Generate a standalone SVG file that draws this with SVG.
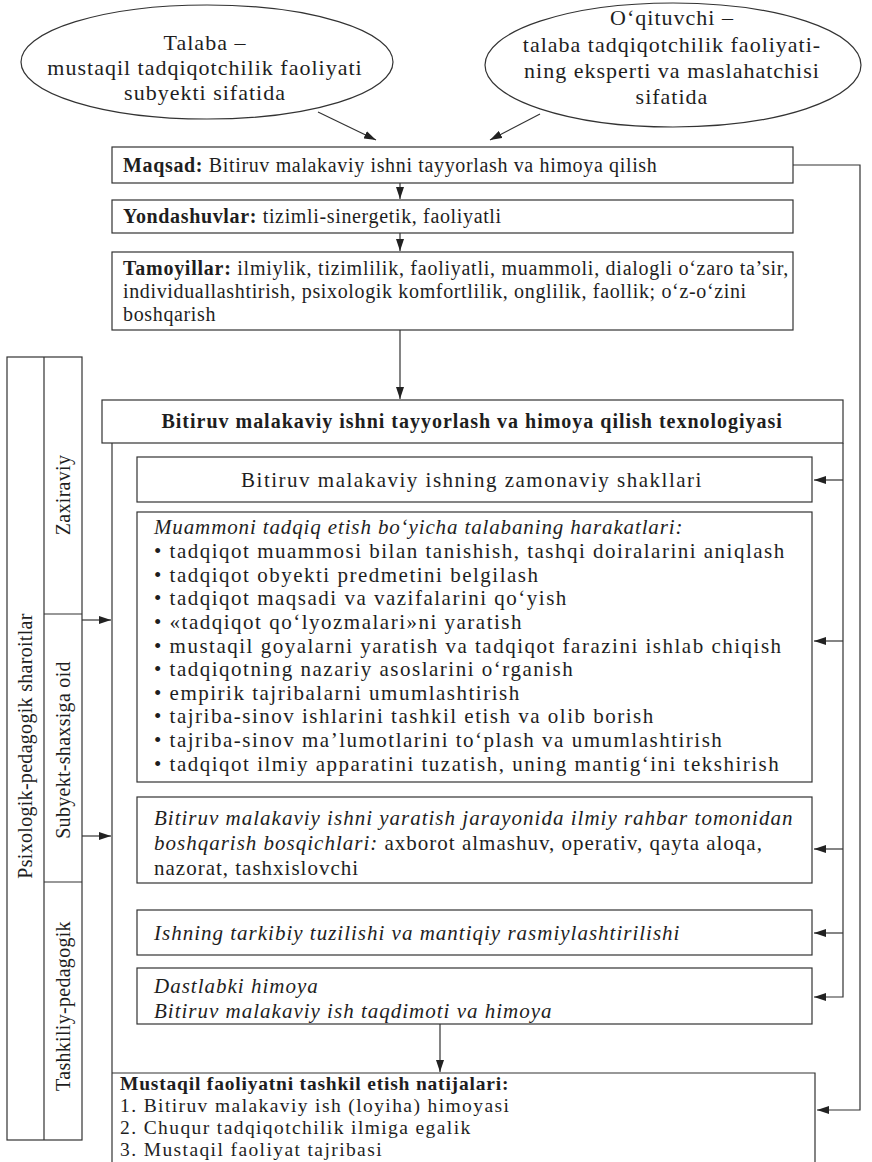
<svg xmlns="http://www.w3.org/2000/svg" width="872" height="1162" viewBox="0 0 872 1162">
<style>
.t{font-family:"Liberation Serif","Times New Roman",serif;fill:#1e1e1e}
.s{font-size:20px;letter-spacing:0.65px}
.e{font-size:22px;letter-spacing:1px}
.l{font-size:21px;letter-spacing:1.5px}
.c{font-size:21px;letter-spacing:1px}
.r{font-size:19.5px;letter-spacing:1.4px}
.v{font-size:20px;letter-spacing:0.3px}
.b{font-weight:bold}
.i{font-style:italic}
.m{text-anchor:middle}
.box{fill:#fff;stroke:#333;stroke-width:1.2}
.ln{fill:none;stroke:#333;stroke-width:1.2}
</style>
<defs>
<marker id="ah" viewBox="0 0 12 8" refX="12" refY="4" markerWidth="12" markerHeight="8" markerUnits="userSpaceOnUse" orient="auto">
<path d="M0,0 L12,4 L0,8 z" fill="#222"/>
</marker>
</defs>
<rect width="872" height="1162" fill="#fff"/>

<g id="connectors">
<path class="ln" d="M318,112 L376,140" marker-end="url(#ah)"/>
<path class="ln" d="M540,114 L490,140" marker-end="url(#ah)"/>
<path class="ln" d="M400,183 V199" marker-end="url(#ah)"/>
<path class="ln" d="M400,233 V251" marker-end="url(#ah)"/>
<path class="ln" d="M400,330 V399" marker-end="url(#ah)"/>
<path class="ln" d="M793,165 H860 V1110 H817" marker-end="url(#ah)"/>
<path class="ln" d="M112,443 V1162"/>
<path class="ln" d="M843,443 V997 H814" marker-end="url(#ah)"/>
<path class="ln" d="M843,480 H814" marker-end="url(#ah)"/>
<path class="ln" d="M843,641 H814" marker-end="url(#ah)"/>
<path class="ln" d="M843,849 H814" marker-end="url(#ah)"/>
<path class="ln" d="M843,933 H814" marker-end="url(#ah)"/>
<path class="ln" d="M82,620 H111" marker-end="url(#ah)"/>
<path class="ln" d="M82,836 H111" marker-end="url(#ah)"/>
<path class="ln" d="M440,1024 V1072" marker-end="url(#ah)"/>
</g>

<g id="talaba">
<ellipse class="box" cx="207" cy="62" rx="186" ry="57"/>
<text class="t e m" x="205" y="50">Talaba –</text>
<text class="t e m" x="205" y="75">mustaqil tadqiqotchilik faoliyati</text>
<text class="t e m" x="205" y="100">subyekti sifatida</text>
</g>

<g id="oqituvchi">
<ellipse class="box" cx="673" cy="65" rx="188" ry="62"/>
<text class="t e m" x="672" y="25">O‘qituvchi –</text>
<text class="t e m" x="672" y="52">talaba tadqiqotchilik faoliyati-</text>
<text class="t e m" x="672" y="78">ning eksperti va maslahatchisi</text>
<text class="t e m" x="672" y="104">sifatida</text>
</g>

<g id="maqsad">
<rect class="box" x="112" y="147" width="681" height="36"/>
<text class="t s" x="123" y="172"><tspan class="b">Maqsad:</tspan> Bitiruv malakaviy ishni tayyorlash va himoya qilish</text>
</g>

<g id="yondashuvlar">
<rect class="box" x="112" y="200" width="681" height="33"/>
<text class="t s" x="123" y="223"><tspan class="b">Yondashuvlar:</tspan> tizimli-sinergetik, faoliyatli</text>
</g>

<g id="tamoyillar">
<rect class="box" x="112" y="252" width="681" height="78"/>
<text class="t s" x="123" y="275" textLength="666" lengthAdjust="spacing"><tspan class="b">Tamoyillar:</tspan> ilmiylik, tizimlilik, faoliyatli, muammoli, dialogli o‘zaro ta’sir,</text>
<text class="t s" x="123" y="298">individuallashtirish, psixologik komfortlilik, onglilik, faollik; o‘z-o‘zini</text>
<text class="t s" x="123" y="321">boshqarish</text>
</g>

<g id="texnologiya">
<rect class="box" x="102" y="400" width="741" height="43"/>
<text class="t s b m" x="472" y="428" textLength="621" lengthAdjust="spacing">Bitiruv malakaviy ishni tayyorlash va himoya qilish texnologiyasi</text>
</g>

<g id="shakllar">
<rect class="box" x="137" y="457" width="675" height="45"/>
<text class="t l m" x="472" y="487">Bitiruv malakaviy ishning zamonaviy shakllari</text>
</g>

<g id="harakatlar">
<rect class="box" x="137" y="512" width="675" height="270"/>
<text class="t l i" x="154" y="534" textLength="530" lengthAdjust="spacing">Muammoni tadqiq etish bo‘yicha talabaning harakatlari:</text>
<text class="t l" x="154" y="558">• tadqiqot muammosi bilan tanishish, tashqi doiralarini aniqlash</text>
<text class="t l" x="154" y="582">• tadqiqot obyekti predmetini belgilash</text>
<text class="t l" x="154" y="605">• tadqiqot maqsadi va vazifalarini qo‘yish</text>
<text class="t l" x="154" y="629">• «tadqiqot qo‘lyozmalari»ni yaratish</text>
<text class="t l" x="154" y="653">• mustaqil goyalarni yaratish va tadqiqot farazini ishlab chiqish</text>
<text class="t l" x="154" y="676">• tadqiqotning nazariy asoslarini o‘rganish</text>
<text class="t l" x="154" y="700">• empirik tajribalarni umumlashtirish</text>
<text class="t l" x="154" y="723">• tajriba-sinov ishlarini tashkil etish va olib borish</text>
<text class="t l" x="154" y="747">• tajriba-sinov ma’lumotlarini to‘plash va umumlashtirish</text>
<text class="t l" x="154" y="771">• tadqiqot ilmiy apparatini tuzatish, uning mantig‘ini tekshirish</text>
</g>

<g id="boshqarish">
<rect class="box" x="137" y="797" width="675" height="86"/>
<text class="t c i" x="154" y="825">Bitiruv malakaviy ishni yaratish jarayonida ilmiy rahbar tomonidan</text>
<text class="t c" x="154" y="850"><tspan class="i">boshqarish bosqichlari:</tspan> axborot almashuv, operativ, qayta aloqa,</text>
<text class="t c" x="154" y="875">nazorat, tashxislovchi</text>
</g>

<g id="tuzilish">
<rect class="box" x="137" y="910" width="675" height="45"/>
<text class="t c i" x="154" y="940">Ishning tarkibiy tuzilishi va mantiqiy rasmiylashtirilishi</text>
</g>

<g id="himoya">
<rect class="box" x="137" y="968" width="675" height="56"/>
<text class="t c i" x="154" y="993">Dastlabki himoya</text>
<text class="t c i" x="154" y="1018">Bitiruv malakaviy ish taqdimoti va himoya</text>
</g>

<g id="natijalar">
<path class="ln" d="M112,1073 H815 V1162"/>
<text class="t r b" x="120" y="1090" style="letter-spacing:0.8px">Mustaqil faoliyatni tashkil etish natijalari:</text>
<text class="t r" x="120" y="1112">1. Bitiruv malakaviy ish (loyiha) himoyasi</text>
<text class="t r" x="120" y="1134">2. Chuqur tadqiqotchilik ilmiga egalik</text>
<text class="t r" x="120" y="1156">3. Mustaqil faoliyat tajribasi</text>
</g>

<g id="sharoitlar">
<rect class="box" x="7" y="357" width="75" height="783"/>
<path class="ln" d="M44,357 V1140 M44,614 H82 M44,882 H82"/>
<text class="t v m" transform="translate(32,746) rotate(-90)">Psixologik-pedagogik sharoitlar</text>
<text class="t v m" transform="translate(70,495) rotate(-90)">Zaxiraviy</text>
<text class="t v m" transform="translate(70,750) rotate(-90)">Subyekt-shaxsiga oid</text>
<text class="t v m" transform="translate(70,1006) rotate(-90)">Tashkiliy-pedagogik</text>
</g>
</svg>
